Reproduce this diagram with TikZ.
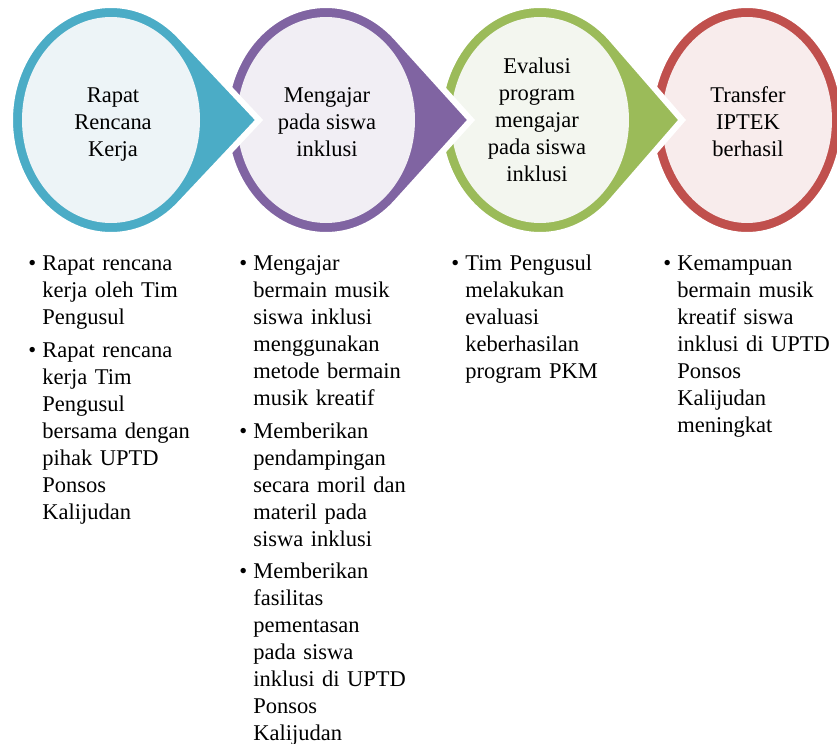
\documentclass[tikz,border=0pt]{standalone}
\usepackage{fontspec}
\setmainfont{Liberation Serif}
\usetikzlibrary{positioning,calc}
\definecolor{aqua}{HTML}{4BACC6}
\definecolor{aqualt}{HTML}{EDF4F7}
\definecolor{violet}{HTML}{8064A2}
\definecolor{violetlt}{HTML}{F1EEF4}
\definecolor{olive}{HTML}{9BBB59}
\definecolor{olivelt}{HTML}{F3F6EF}
\definecolor{brick}{HTML}{C0504D}
\definecolor{bricklt}{HTML}{F8ECEC}
\newcommand{\bul}{\leftskip=7pt\noindent\llap{\makebox[7pt][l]{\textbullet}}\strut}
\newcommand{\lastln}{\strut\par}
\tikzset{
  ring/.style={draw=white, line width=3pt},
  ttl/.style={align=center, inner sep=0pt, font=\fontsize{11.25}{13.5}\selectfont},
  itm/.style={text width=90pt, align=left, inner sep=0pt, font=\fontsize{11.25}{13.5}\selectfont},
}
\begin{document}
\begin{tikzpicture}[x=0.5pt, y=-0.5pt]
\useasboundingbox[fill=white] (0,0) rectangle (837,744);
\coordinate (c1) at (111,120);
\coordinate (c2) at (326,120);
\coordinate (c3) at (540,120);
\coordinate (c4) at (747,120);
% circles, last one first so each tip lies on the next
\filldraw[ring, fill=brick] (c4) ellipse[x radius=97, y radius=115];
\fill[bricklt] (c4) ellipse[x radius=85, y radius=103];
\filldraw[ring, fill=olive] ($(c3)+(142,0)$) -- ($(c3)+(44.7:101 and 115)$) arc[start angle=44.7, end angle=315.3, x radius=101, y radius=115] -- cycle;
\fill[olivelt] (c3) ellipse[x radius=89, y radius=103];
\filldraw[ring, fill=violet] ($(c2)+(145,0)$) -- ($(c2)+(45.9:101 and 115)$) arc[start angle=45.9, end angle=314.1, x radius=101, y radius=115] -- cycle;
\fill[violetlt] (c2) ellipse[x radius=89, y radius=103];
\filldraw[ring, fill=aqua] ($(c1)+(148,0)$) -- ($(c1)+(47:101 and 115)$) arc[start angle=47, end angle=313, x radius=101, y radius=115] -- cycle;
\fill[aqualt] (c1) ellipse[x radius=89, y radius=103];
% titles
\node[ttl] (tt1) at (113,125) {Rapat\\Rencana\\Kerja};
\node[ttl] (tt2) at (327,122) {Mengajar\\pada siswa\\inklusi};
\node[ttl] (tt3) at (537,120) {Evalusi\\program\\mengajar\\pada siswa\\inklusi};
\node[ttl] (tt4) at (748,122) {Transfer\\IPTEK\\berhasil};
% lists
\node[itm, anchor=north west] (it1a) at (28,251) {\bul Rapat rencana\\kerja oleh Tim\\Pengusul\lastln};
\node[itm, below=2.5pt of it1a] (it1b) {\bul Rapat rencana\\kerja Tim\\Pengusul\\bersama dengan\\pihak UPTD\\Ponsos\\Kalijudan\lastln};
\node[itm, anchor=north west] (it2a) at (239,251) {\bul Mengajar\\bermain musik\\siswa inklusi\\menggunakan\\metode bermain\\musik kreatif\lastln};
\node[itm, below=2.5pt of it2a] (it2b) {\bul Memberikan\\pendampingan\\secara moril dan\\materil pada\\siswa inklusi\lastln};
\node[itm, below=2.5pt of it2b] (it2c) {\bul Memberikan\\fasilitas\\pementasan\\pada siswa\\inklusi di UPTD\\Ponsos\\Kalijudan\lastln};
\node[itm, anchor=north west] (it3a) at (451,251) {\bul Tim Pengusul\\melakukan\\evaluasi\\keberhasilan\\program PKM\lastln};
\node[itm, anchor=north west] (it4a) at (663,251) {\bul Kemampuan\\bermain musik\\kreatif siswa\\inklusi di UPTD\\Ponsos\\Kalijudan\\meningkat\lastln};
\end{tikzpicture}
\end{document}
